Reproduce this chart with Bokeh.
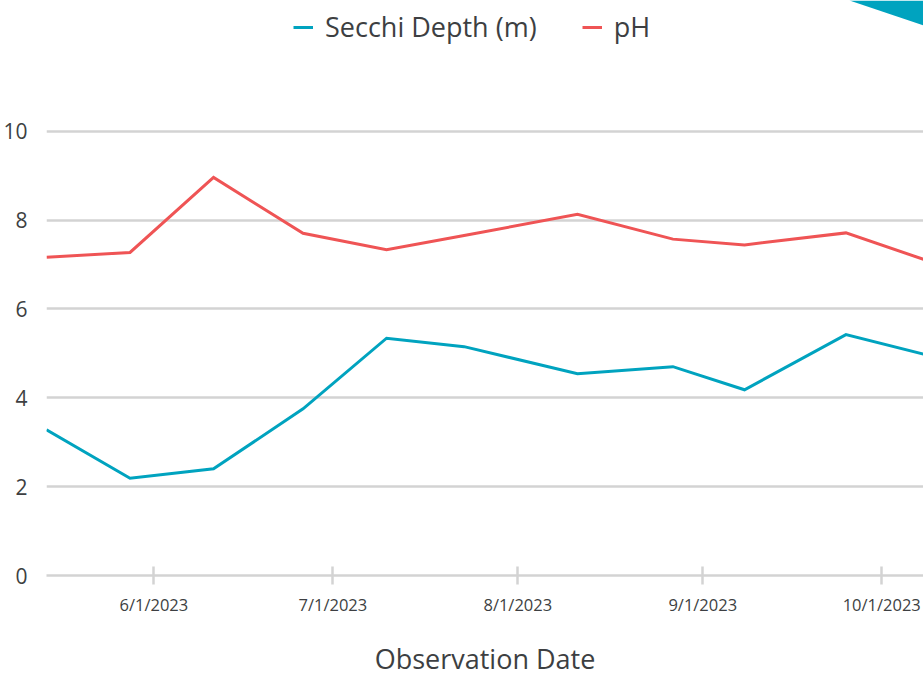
import pandas as pd
from bokeh.plotting import figure
from bokeh.models import (Range1d, FixedTicker, DatetimeTickFormatter, PolyAnnotation)
from bokeh.embed import file_html
from bokeh.resources import INLINE

# ---- data ----
obs_dates = ["2023-05-14", "2023-05-28", "2023-06-11", "2023-06-26", "2023-07-10",
             "2023-07-23", "2023-08-11", "2023-08-27", "2023-09-08", "2023-09-25",
             "2023-10-09"]
secchi_depth = [3.28, 2.19, 2.40, 3.75, 5.34, 5.15, 4.54, 4.70, 4.18, 5.42, 4.95]
ph_values = [7.16, 7.27, 8.96, 7.70, 7.33, 7.65, 8.13, 7.57, 7.44, 7.71, 7.07]
tick_dates = ["2023-06-01", "2023-07-01", "2023-08-01", "2023-09-01", "2023-10-01"]
y_ticks = [0, 2, 4, 6, 8, 10]
x_start, x_end = "2023-05-14", "2023-10-08"

TEAL = "#00a3bf"
RED = "#ef5455"
GRID = "#d3d3d3"
TEXT = "#3d3f42"
FONT = "Open Sans"

dates = pd.to_datetime(obs_dates)
ticks_ms = [pd.Timestamp(d).value / 1e6 for d in tick_dates]

p = figure(width=923, height=679, x_axis_type="datetime",
           output_backend="svg", toolbar_location=None,
           x_range=Range1d(pd.Timestamp(x_start), pd.Timestamp(x_end)),
           y_range=Range1d(0, 12.94),
           min_border_left=46, min_border_right=0, min_border_top=0,
           min_border_bottom=103)
p.outline_line_color = None
p.background_fill_color = "white"
p.border_fill_color = "white"

p.line(dates, secchi_depth, color=TEAL, line_width=3, line_join="miter",
       legend_label="Secchi Depth (m)")
p.line(dates, ph_values, color=RED, line_width=3, line_join="miter",
       legend_label="pH")

# grid
p.xgrid.grid_line_color = None
p.ygrid.grid_line_color = GRID
p.ygrid.grid_line_width = 2.5
p.ygrid.ticker = FixedTicker(ticks=y_ticks)

# y axis
ya = p.yaxis[0]
ya.ticker = FixedTicker(ticks=y_ticks)
ya.axis_line_color = None
ya.major_tick_line_color = None
ya.minor_tick_line_color = None
ya.major_label_standoff = 13
ya.major_label_text_font = FONT
ya.major_label_text_font_size = "21px"
ya.major_label_text_color = TEXT

# x axis
xa = p.xaxis[0]
xa.ticker = FixedTicker(ticks=ticks_ms)
fmt = "%-m/%-d/%Y"
xa.formatter = DatetimeTickFormatter(milliseconds=fmt, seconds=fmt, minsec=fmt,
                                     minutes=fmt, hourmin=fmt, hours=fmt, days=fmt,
                                     months=fmt, years=fmt)
xa.axis_line_color = GRID
xa.axis_line_width = 2.5
xa.major_tick_line_color = GRID
xa.major_tick_line_width = 2.5
xa.major_tick_in = 9
xa.major_tick_out = 9
xa.minor_tick_line_color = None
xa.major_label_standoff = 8
xa.major_label_text_font = FONT
xa.major_label_text_font_size = "16.5px"
xa.major_label_text_color = TEXT
xa.axis_label = "Observation Date"
xa.axis_label_standoff = 21
xa.axis_label_text_font = FONT
xa.axis_label_text_font_size = "27px"
xa.axis_label_text_font_style = "normal"
xa.axis_label_text_color = TEXT

# legend
lg = p.legend[0]
lg.location = (247, 530)
lg.orientation = "horizontal"
lg.border_line_color = None
lg.background_fill_alpha = 0
lg.margin = 0
lg.padding = 0
lg.spacing = 45
lg.glyph_width = 20
lg.label_standoff = 12
lg.label_text_font = FONT
lg.label_text_font_size = "27px"
lg.label_text_color = TEXT

# decorative corner shape (top right)
corner = PolyAnnotation(xs=[849, 923, 923], ys=[0, 0, 25],
                        xs_units="canvas", ys_units="canvas",
                        fill_color=TEAL, fill_alpha=1, line_color=None)
p.add_layout(corner)

open("out.html", "w").write(file_html(p, INLINE))
